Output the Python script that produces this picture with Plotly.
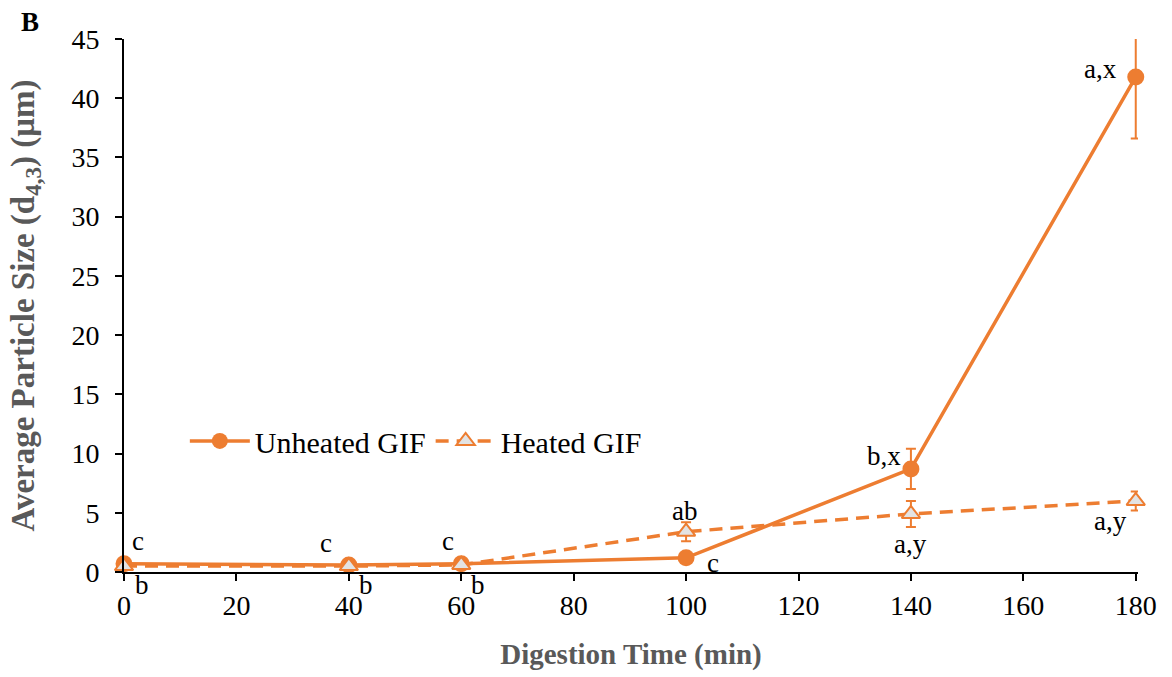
import plotly.graph_objects as go

time_min = [0, 40, 60, 100, 140, 180]
unheated = [0.7, 0.6, 0.7, 1.2, 8.7, 41.8]
unheated_err = [0.1, 0.1, 0.1, 0.4, 1.7, 5.2]
heated = [0.5, 0.5, 0.6, 3.4, 4.9, 6.0]
heated_err = [0.1, 0.1, 0.1, 0.8, 1.1, 0.8]
unheated_labels = ["c", "c", "c", "c", "b,x", "a,x"]
heated_labels = ["b", "b", "b", "ab", "a,y", "a,y"]
x_ticks = [0, 20, 40, 60, 80, 100, 120, 140, 160, 180]
y_ticks = [0, 5, 10, 15, 20, 25, 30, 35, 40, 45]

ORANGE = "#ED7D31"
FONT = "Liberation Serif, Times New Roman, DejaVu Serif, serif"

fig = go.Figure()
fig.add_trace(go.Scatter(
    x=time_min, y=unheated, name="Unheated GIF", mode="lines+markers",
    line=dict(color=ORANGE, width=3.5),
    marker=dict(symbol="circle", size=17, color=ORANGE),
    error_y=dict(type="data", array=unheated_err, color=ORANGE, thickness=2, width=5),
    cliponaxis=False,
))
fig.add_trace(go.Scatter(
    x=time_min, y=heated, name="Heated GIF", mode="lines+markers",
    line=dict(color=ORANGE, width=3.5, dash="13px,8px"),
    marker=dict(symbol="triangle-up", size=16, color="#E3E3E3",
                line=dict(color=ORANGE, width=2)),
    error_y=dict(type="data", array=heated_err, color=ORANGE, thickness=2, width=5),
    cliponaxis=False,
))

u_shift = [(14, 23), (-23, 22), (-13, 23), (27, -5), (-27, 13), (-35, 8)]
h_shift = [(18, -19), (17, -19), (17, -20), (-2, 21), (0, -30), (-25, -20)]
for xv, yv, t, (dx, dy) in zip(time_min, unheated, unheated_labels, u_shift):
    fig.add_annotation(x=xv, y=yv, text=t, showarrow=False, xshift=dx, yshift=dy,
                       font=dict(family=FONT, size=27, color="black"))
for xv, yv, t, (dx, dy) in zip(time_min, heated, heated_labels, h_shift):
    fig.add_annotation(x=xv, y=yv, text=t, showarrow=False, xshift=dx, yshift=dy,
                       font=dict(family=FONT, size=27, color="black"))

fig.add_annotation(x=-0.0927, y=1.032, xref="paper", yref="paper", text="<b>B</b>",
                   showarrow=False, xanchor="center", yanchor="middle",
                   font=dict(family=FONT, size=27, color="black"))

fig.update_layout(
    width=1172, height=677,
    margin=dict(l=124, r=34, t=39, b=105),
    plot_bgcolor="white", paper_bgcolor="white",
    font=dict(family=FONT, size=28, color="black"),
    showlegend=True,
    legend=dict(orientation="h", x=0.06, y=0.246, xanchor="left", yanchor="middle",
                bgcolor="rgba(0,0,0,0)", font=dict(family=FONT, size=30),
                itemwidth=60, tracegroupgap=0),
    xaxis=dict(range=[0, 180.4], tickvals=x_ticks, showgrid=False, zeroline=False,
               showline=True, linecolor="black", linewidth=2,
               ticks="outside", ticklen=7, tickwidth=2, tickcolor="black",
               tickfont=dict(family=FONT, size=28, color="black"),
               title=dict(text="<b>Digestion Time (min)</b>", standoff=24,
                          font=dict(family=FONT, size=29, color="#595959"))),
    yaxis=dict(range=[0, 45], tickvals=y_ticks, showgrid=False, zeroline=False,
               showline=True, linecolor="black", linewidth=2,
               ticks="outside", ticklen=7, tickwidth=2, tickcolor="black",
               ticklabelstandoff=10,
               tickfont=dict(family=FONT, size=28, color="black"),
               title=dict(text="<b>Average Particle Size (d<sub>4,3</sub>) (μm)</b>", standoff=27,
                          font=dict(family=FONT, size=33, color="#595959"))),
)

fig.write_html("out.html")
